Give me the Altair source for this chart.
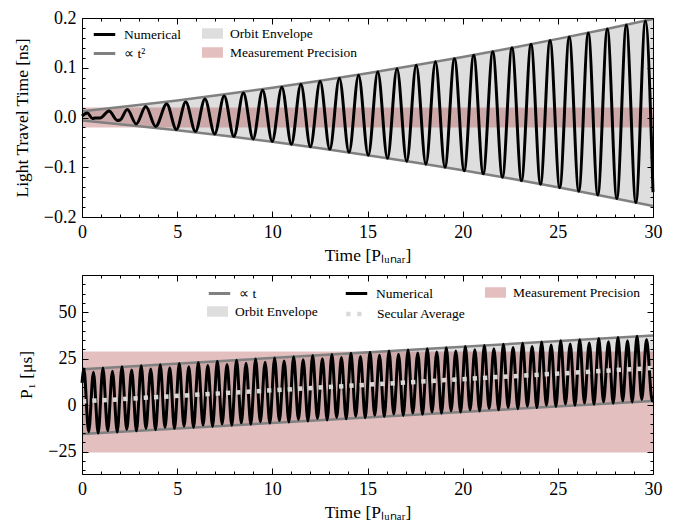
import altair as alt
import pandas as pd

FONT = "Liberation Serif"
W, H = 571, 199

# ---------------- top panel: light travel time [ns] ----------------
top_t = [0.0, 0.28, 0.55, 0.7, 0.95, 1.42, 1.86, 2.0, 2.38, 2.85, 3.35, 3.87, 4.45, 4.96,
         5.45, 5.96, 6.46, 6.97, 7.47, 7.98, 8.48, 8.99, 9.49, 9.99, 10.5, 11.0, 11.5, 12.0,
         12.51, 13.02, 13.52, 14.03, 14.53, 15.04, 15.54, 16.05, 16.55, 17.06, 17.56, 18.07,
         18.57, 19.07, 19.57, 20.08, 20.58, 21.08, 21.58, 22.09, 22.59, 23.09, 23.59, 24.09,
         24.59, 25.1, 25.6, 26.1, 26.6, 27.1, 27.6, 28.1, 28.6, 29.1, 29.6, 30.0]
top_v = [0.003, 0.009, -0.002, -0.001, -0.001, 0.013, -0.006, -0.005, 0.016, -0.013, 0.022,
         -0.018, 0.027, -0.024, 0.031, -0.028, 0.037, -0.033, 0.043, -0.038, 0.049, -0.043,
         0.055, -0.048, 0.061, -0.054, 0.067, -0.059, 0.073, -0.064, 0.079, -0.070, 0.085,
         -0.076, 0.092, -0.082, 0.098, -0.088, 0.105, -0.094, 0.112, -0.100, 0.118, -0.107,
         0.125, -0.113, 0.132, -0.120, 0.140, -0.127, 0.147, -0.134, 0.155, -0.141, 0.162,
         -0.148, 0.170, -0.156, 0.178, -0.163, 0.186, -0.171, 0.194, -0.150]
top_env_t = [0, 2.5, 5, 7.5, 10, 12.5, 15, 17.5, 20, 22.5, 25, 27.5, 30]
top_env_hi = [0.0125, 0.023, 0.0344, 0.0467, 0.0599, 0.074, 0.089, 0.1049, 0.1217, 0.1394,
              0.158, 0.1775, 0.1979]
top_env_lo = [-0.006, -0.0154, -0.0256, -0.0368, -0.0489, -0.0618, -0.0757, -0.0905,
              -0.1062, -0.1228, -0.1403, -0.1587, -0.178]
top_prec = [-0.02, 0.02]

# ---------------- bottom panel: P1 [us] ----------------
bot_peak_t = [0.10, 0.60, 1.10, 1.60, 2.10, 2.61, 3.11, 3.61, 4.11, 4.61, 5.11, 5.61, 6.11,
              6.61, 7.11, 7.62, 8.12, 8.62, 9.12, 9.62, 10.12, 10.62, 11.12, 11.62, 12.12,
              12.63, 13.13, 13.63, 14.13, 14.63, 15.13, 15.63, 16.13, 16.63, 17.13, 17.64,
              18.14, 18.64, 19.14, 19.64, 20.14, 20.64, 21.14, 21.64, 22.14, 22.65, 23.15,
              23.65, 24.15, 24.65, 25.15, 25.65, 26.15, 26.65, 27.15, 27.66, 28.16, 28.66,
              29.16, 29.66]
bot_peak_v = [19.4, 17.7, 20.0, 18.3, 20.6, 18.9, 21.2, 19.5, 21.8, 20.1, 22.4, 20.7, 23.0,
              21.3, 23.6, 21.9, 24.2, 22.5, 24.8, 23.1, 25.4, 23.7, 26.0, 24.4, 26.7, 25.0,
              27.3, 25.6, 27.9, 26.2, 28.5, 26.8, 29.1, 27.4, 29.7, 28.0, 30.3, 28.6, 30.9,
              29.2, 31.5, 29.8, 32.1, 30.4, 32.7, 31.0, 33.3, 31.6, 34.0, 32.3, 34.6, 32.9,
              35.2, 33.5, 35.8, 34.1, 36.4, 34.7, 37.0, 35.3]
bot_trough_t = [0.35, 0.85, 1.35, 1.85, 2.35, 2.86, 3.36, 3.86, 4.36, 4.86, 5.36, 5.86, 6.36,
                6.86, 7.36, 7.87, 8.37, 8.87, 9.37, 9.87, 10.37, 10.87, 11.37, 11.87, 12.37,
                12.88, 13.38, 13.88, 14.38, 14.88, 15.38, 15.88, 16.38, 16.88, 17.38, 17.89,
                18.39, 18.89, 19.39, 19.89, 20.39, 20.89, 21.39, 21.89, 22.39, 22.90, 23.40,
                23.90, 24.40, 24.90, 25.40, 25.90, 26.40, 26.90, 27.40, 27.91, 28.41, 28.91,
                29.41, 29.96]
bot_trough_v = [-14.3, -15.0, -13.7, -14.4, -13.1, -13.8, -12.5, -13.2, -11.9, -12.6, -11.3,
                -12.0, -10.7, -11.4, -10.1, -10.8, -9.5, -10.2, -8.9, -9.6, -8.3, -9.0, -7.7,
                -8.5, -7.2, -7.9, -6.6, -7.3, -6.0, -6.7, -5.4, -6.1, -4.8, -5.5, -4.2, -4.9,
                -3.6, -4.3, -3.0, -3.7, -2.4, -3.1, -1.8, -2.5, -1.2, -1.9, -0.6, -1.3, 0.0,
                -0.7, 0.6, -0.1, 1.2, 0.5, 1.8, 1.1, 2.4, 1.7, 3.0, 2.3]
bot_ends_t = [0.0, 30.0]
bot_ends_v = [12.0, 2.6]
bot_env_t = [0, 30]
bot_env_hi = [19.3, 37.5]
bot_env_lo = [-15.5, 2.3]
bot_sec_t = [0, 30]
bot_sec_v = [2.0, 20.0]
bot_prec = [-25.5, 28.8]

x_major = [0, 5, 10, 15, 20, 25, 30]
x_minor = [v for v in range(0, 31) if v % 5]
top_y_major = [-0.2, -0.1, 0.0, 0.1, 0.2]
top_y_minor = [-0.18, -0.16, -0.14, -0.12, -0.08, -0.06, -0.04, -0.02,
               0.02, 0.04, 0.06, 0.08, 0.12, 0.14, 0.16, 0.18]
bot_y_major = [-25, 0, 25, 50]
bot_y_minor = [-35, -30, -20, -15, -10, -5, 5, 10, 15, 20, 30, 35, 40, 45, 55, 60, 65]

X_TITLE = "Time [Pₗᵤₙₐᵣ]"


def main_axis(orient, values, fmt, title_pad, label_pad):
    return alt.Axis(orient=orient, values=values, format=fmt, ticks=False, tickSize=0,
                    domain=True, domainColor="black", domainWidth=1, grid=False,
                    labelFont=FONT, labelFontSize=18, labelColor="black",
                    labelPadding=label_pad, labelFlush=False, labelOverlap=False,
                    titleFont=FONT, titleFontSize=17.5, titleFontWeight="normal",
                    titleColor="black", titlePadding=title_pad, zindex=2)


def tick_axis(orient, values, size, offset, domain=False):
    return alt.Axis(orient=orient, values=values, offset=offset, labels=False,
                    domain=domain, domainColor="black", domainWidth=1, grid=False,
                    ticks=True, tickSize=size, tickColor="black", tickWidth=1, zindex=2)


def axes_set(ymaj, ymin, yfmt, ytitle):
    return [
        (main_axis("bottom", x_major, "d", 5, 6), main_axis("left", ymaj, yfmt, 12, 6), X_TITLE, ytitle),
        (tick_axis("top", x_major, 6, -H), tick_axis("right", ymaj, 6, -W), None, None),
        (tick_axis("top", x_minor, 3, -H), tick_axis("right", ymin, 3, -W), None, None),
        (tick_axis("bottom", x_major, 6, -H, True), tick_axis("left", ymaj, 6, -W, True), None, None),
        (tick_axis("bottom", x_minor, 3, -H), tick_axis("left", ymin, 3, -W), None, None),
    ]


def enc_xy(i, axes, ydom, xfield="t", yfield="v"):
    xs = alt.Scale(domain=[0, 30], nice=False, zero=False)
    ys = alt.Scale(domain=ydom, nice=False, zero=False)
    if i is None:
        return (alt.X(f"{xfield}:Q", scale=xs, axis=None),
                alt.Y(f"{yfield}:Q", scale=ys, axis=None))
    ax, ay, tx, ty = axes[i]
    return (alt.X(f"{xfield}:Q", scale=xs, axis=ax, title=tx),
            alt.Y(f"{yfield}:Q", scale=ys, axis=ay, title=ty))


def line_legend(x, y, width, dash=None):
    kw = dict(orient="none", legendX=x, legendY=y, title=None, symbolType="stroke",
              symbolSize=462, symbolStrokeWidth=width, labelFont=FONT, labelFontSize=13.5,
              labelColor="black", labelOffset=7, padding=0)
    if dash:
        kw["symbolDash"] = dash
    return alt.Legend(**kw)


def box_legend(x, y, opacity=1.0):
    return alt.Legend(orient="none", legendX=x, legendY=y, title=None,
                      symbolType="M-1,-0.5H1V0.5H-1Z", symbolSize=441, symbolStrokeWidth=0,
                      symbolOpacity=opacity, labelFont=FONT, labelFontSize=13.5,
                      labelColor="black", labelOffset=7, padding=0)


def panel(line_df, env_df, band_df, ydom, ymaj, ymin, yfmt, ytitle, env_label, legpos,
          sec_df=None):
    axes = axes_set(ymaj, ymin, yfmt, ytitle)
    x0, y0 = enc_xy(0, axes, ydom, "t", "hi")
    env = alt.Chart(env_df).mark_area(interpolate="monotone").encode(
        x=x0, y=y0, y2="lo:Q",
        fill=alt.Fill("lab:N", scale=alt.Scale(domain=["Orbit Envelope"], range=["#dedede"]),
                      legend=box_legend(*legpos["env"])))
    x1 = alt.X("x0:Q", scale=alt.Scale(domain=[0, 30], nice=False, zero=False),
               axis=axes[1][0], title=None)
    y1 = alt.Y("lo:Q", scale=alt.Scale(domain=ydom, nice=False, zero=False),
               axis=axes[1][1], title=None)
    band = alt.Chart(band_df).mark_rect(opacity=0.3).encode(
        x=x1, x2="x1:Q", y=y1, y2="hi:Q",
        fill=alt.Fill("lab:N", scale=alt.Scale(domain=["Measurement Precision"], range=["#a52a2a"]),
                      legend=box_legend(*legpos["prec"], opacity=0.3)))
    x2, y2 = enc_xy(2, axes, ydom, "t", "hi")
    up = alt.Chart(env_df).mark_line(interpolate="monotone", strokeWidth=2.5).encode(
        x=x2, y=y2,
        stroke=alt.Stroke("fit:N", scale=alt.Scale(domain=[env_label], range=["#808080"]),
                          legend=line_legend(*legpos["fit"], 3)))
    x4, y4 = enc_xy(4, axes, ydom, "t", "lo")
    lo = alt.Chart(env_df).mark_line(interpolate="monotone", strokeWidth=2.5, color="#808080").encode(
        x=x4, y=y4)
    x3, y3 = enc_xy(3, axes, ydom)
    num = alt.Chart(line_df).mark_line(interpolate="monotone", strokeWidth=3).encode(
        x=x3, y=y3,
        stroke=alt.Stroke("lab:N", scale=alt.Scale(domain=["Numerical"], range=["black"]),
                          legend=line_legend(*legpos["num"], 3)))
    layers = [env, band, up, lo, num]
    if sec_df is not None:
        xs_, ys_ = enc_xy(None, axes, ydom)
        sec = alt.Chart(sec_df).mark_line(strokeWidth=4.5, strokeDash=[4.3, 6.0]).encode(
            x=xs_, y=ys_,
            stroke=alt.Stroke("lab:N", scale=alt.Scale(domain=["Secular Average"], range=["#d9d9d9"]),
                              legend=line_legend(*legpos["sec"], 4.5, [4.3, 6.7])))
        layers.append(sec)
    return alt.layer(*layers).resolve_scale(
        fill="independent", stroke="independent"
    ).resolve_axis(x="independent", y="independent").resolve_legend(
        fill="independent", stroke="independent"
    ).properties(width=W, height=H)


# ---- tables ----
top_line = pd.DataFrame({"t": top_t, "v": top_v, "lab": "Numerical"})
top_env = pd.DataFrame({"t": top_env_t, "hi": top_env_hi, "lo": top_env_lo,
                        "lab": "Orbit Envelope", "fit": "∝ t²"})
top_band = pd.DataFrame({"x0": [0], "x1": [30], "lo": [top_prec[0]], "hi": [top_prec[1]],
                         "lab": ["Measurement Precision"]})

bot_line = pd.DataFrame({"t": bot_peak_t + bot_trough_t + bot_ends_t,
                         "v": bot_peak_v + bot_trough_v + bot_ends_v}).sort_values("t")
bot_line["lab"] = "Numerical"
bot_env = pd.DataFrame({"t": bot_env_t, "hi": bot_env_hi, "lo": bot_env_lo,
                        "lab": "Orbit Envelope", "fit": "∝ t"})
bot_band = pd.DataFrame({"x0": [0], "x1": [30], "lo": [bot_prec[0]], "hi": [bot_prec[1]],
                         "lab": ["Measurement Precision"]})
bot_sec = pd.DataFrame({"t": bot_sec_t, "v": bot_sec_v, "lab": "Secular Average"})

top = panel(top_line, top_env, top_band, [-0.2, 0.2], top_y_major, top_y_minor, ".1f",
            "Light Travel Time [ns]", "∝ t²",
            {"num": (10, 4), "fit": (10, 23), "env": (120, 5), "prec": (120, 24)})
bottom = panel(bot_line, bot_env, bot_band, [-37, 70], bot_y_major, bot_y_minor, "d",
               "P₁ [μs]", "∝ t",
               {"fit": (125, 6), "env": (125, 26), "num": (262, 6), "sec": (262, 26),
                "prec": (403, 7)},
               sec_df=bot_sec)

chart = alt.vconcat(top, bottom, spacing=10).resolve_scale(
    x="independent", y="independent", fill="independent", stroke="independent"
).resolve_axis(x="independent", y="independent").resolve_legend(
    fill="independent", stroke="independent"
).properties(
    padding={"left": 4, "top": 0, "right": 5, "bottom": 0}
).configure_view(stroke="black", strokeWidth=1).configure(background="white")

chart.save("out.html", embed_options={"renderer": "svg", "actions": False})
